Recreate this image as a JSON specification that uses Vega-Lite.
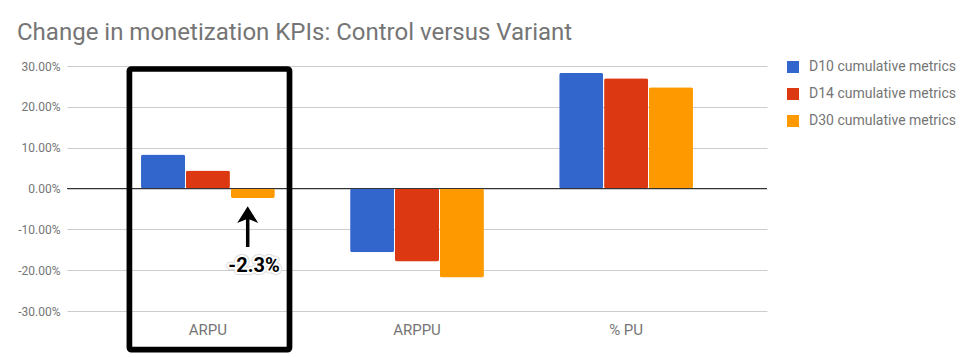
{
  "$schema": "https://vega.github.io/schema/vega-lite/v6.json",
  "width": 700,
  "height": 245,
  "autosize": {"type": "none"},
  "padding": {"left": 67, "top": 66, "right": 202, "bottom": 46},
  "background": "white",
  "config": {
    "font": "Roboto",
    "view": {"stroke": null},
    "axisY": {"title": null, "domain": false, "ticks": false, "grid": true, "gridColor": "#cccccc", "labelFontSize": 12, "labelColor": "#757575", "labelPadding": 7, "labelFont": "Roboto", "values": [-0.3, -0.2, -0.1, 0, 0.1, 0.2, 0.3], "labelExpr": "replace(format(datum.value, '.2%'), '\u2212', '-')"},
    "axisX": {"title": null, "domain": false, "ticks": false, "grid": false, "labelAngle": 0, "labelFontSize": 15, "labelColor": "#757575", "labelPadding": 11, "labelFont": "Roboto"}
  },
  "title": {"text": "Change in monetization KPIs: Control versus Variant", "anchor": "start", "frame": "group", "fontSize": 24, "fontWeight": "normal", "color": "#757575", "font": "Roboto", "dx": -50, "dy": 25, "offset": 21, "baseline": "alphabetic"},
  "datasets": {
    "bars": [
      {"kpi": "ARPU", "series": "D10 cumulative metrics", "change": 0.083},
      {"kpi": "ARPU", "series": "D14 cumulative metrics", "change": 0.044},
      {"kpi": "ARPU", "series": "D30 cumulative metrics", "change": -0.023},
      {"kpi": "ARPPU", "series": "D10 cumulative metrics", "change": -0.156},
      {"kpi": "ARPPU", "series": "D14 cumulative metrics", "change": -0.179},
      {"kpi": "ARPPU", "series": "D30 cumulative metrics", "change": -0.218},
      {"kpi": "% PU", "series": "D10 cumulative metrics", "change": 0.283},
      {"kpi": "% PU", "series": "D14 cumulative metrics", "change": 0.270},
      {"kpi": "% PU", "series": "D30 cumulative metrics", "change": 0.248}
    ],
    "box": [{"x1": -0.376, "x2": 0.39, "y1": 0.2927, "y2": -0.3948}],
    "arrow": [{"x": 0.19, "y1": -0.069, "y2": -0.1433}],
    "label": [{"x": 0.22, "y": -0.2038, "text": "-2.3%"}]
  },
  "layer": [
    {
      "data": {"name": "bars"},
      "mark": {"type": "bar", "cornerRadius": 2},
      "encoding": {
        "x": {"field": "kpi", "type": "nominal", "sort": ["ARPU", "ARPPU", "% PU"], "scale": {"paddingInner": 0.36, "paddingOuter": 0.354}},
        "xOffset": {"field": "series", "type": "nominal", "scale": {"paddingInner": 0.02}},
        "y": {"field": "change", "type": "quantitative", "scale": {"domain": [-0.3, 0.3], "nice": false, "zero": false}},
        "color": {"field": "series", "type": "nominal",
          "scale": {"domain": ["D10 cumulative metrics", "D14 cumulative metrics", "D30 cumulative metrics"], "range": ["#3366cc", "#dc3912", "#ff9900"]},
          "legend": {"title": null, "orient": "none", "legendX": 719, "legendY": -6, "symbolType": "square", "symbolSize": 144, "symbolStrokeWidth": 0, "labelFontSize": 14, "labelColor": "#757575", "labelFont": "Roboto", "labelOffset": 9, "rowPadding": 13, "padding": 0}}
      }
    },
    {
      "data": {"values": [{}]},
      "mark": {"type": "rule", "color": "#333333", "strokeWidth": 1},
      "encoding": {"y": {"datum": 0, "type": "quantitative", "scale": {"domain": [-0.3, 0.3], "nice": false, "zero": false}}}
    },
    {
      "data": {"name": "box"},
      "mark": {"type": "rect", "filled": false, "stroke": "#000000", "strokeWidth": 5.7, "cornerRadius": 2, "clip": false},
      "encoding": {
        "x": {"field": "x1", "type": "quantitative", "scale": {"domain": [-0.6746, 2.6746], "nice": false, "zero": false}, "axis": null},
        "x2": {"field": "x2"},
        "y": {"field": "y1", "type": "quantitative", "scale": {"domain": [-0.3, 0.3], "nice": false, "zero": false}},
        "y2": {"field": "y2"}
      }
    },
    {
      "data": {"name": "arrow"},
      "mark": {"type": "rule", "color": "#000000", "strokeWidth": 3.5},
      "encoding": {
        "x": {"field": "x", "type": "quantitative", "scale": {"domain": [-0.6746, 2.6746], "nice": false, "zero": false}, "axis": null},
        "y": {"field": "y1", "type": "quantitative", "scale": {"domain": [-0.3, 0.3], "nice": false, "zero": false}},
        "y2": {"field": "y2"}
      }
    },
    {
      "data": {"name": "arrow"},
      "mark": {"type": "point", "shape": "M0,-1L1,0.6L0,0.2L-1,0.6Z", "size": 441, "filled": true, "color": "#000000", "opacity": 1},
      "encoding": {
        "x": {"field": "x", "type": "quantitative", "scale": {"domain": [-0.6746, 2.6746], "nice": false, "zero": false}, "axis": null},
        "y": {"field": "y1", "type": "quantitative", "scale": {"domain": [-0.3, 0.3], "nice": false, "zero": false}}
      }
    },
    {
      "data": {"name": "label"},
      "mark": {"type": "text", "font": "Roboto", "fontWeight": "bold", "fontSize": 20, "align": "center", "baseline": "alphabetic", "fill": "#ffffff", "stroke": "#dddddd", "strokeWidth": 6, "strokeJoin": "round"},
      "encoding": {
        "x": {"field": "x", "type": "quantitative", "scale": {"domain": [-0.6746, 2.6746], "nice": false, "zero": false}, "axis": null},
        "y": {"field": "y", "type": "quantitative", "scale": {"domain": [-0.3, 0.3], "nice": false, "zero": false}},
        "text": {"field": "text"}
      }
    },
    {
      "data": {"name": "label"},
      "mark": {"type": "text", "font": "Roboto", "fontWeight": "bold", "fontSize": 20, "align": "center", "baseline": "alphabetic", "fill": "#ffffff", "stroke": "#ffffff", "strokeWidth": 4, "strokeJoin": "round"},
      "encoding": {
        "x": {"field": "x", "type": "quantitative", "scale": {"domain": [-0.6746, 2.6746], "nice": false, "zero": false}, "axis": null},
        "y": {"field": "y", "type": "quantitative", "scale": {"domain": [-0.3, 0.3], "nice": false, "zero": false}},
        "text": {"field": "text"}
      }
    },
    {
      "data": {"name": "label"},
      "mark": {"type": "text", "font": "Roboto", "fontWeight": "bold", "fontSize": 20, "align": "center", "baseline": "alphabetic", "fill": "#000000"},
      "encoding": {
        "x": {"field": "x", "type": "quantitative", "scale": {"domain": [-0.6746, 2.6746], "nice": false, "zero": false}, "axis": null},
        "y": {"field": "y", "type": "quantitative", "scale": {"domain": [-0.3, 0.3], "nice": false, "zero": false}},
        "text": {"field": "text"}
      }
    }
  ],
  "resolve": {"scale": {"x": "independent"}}
}
